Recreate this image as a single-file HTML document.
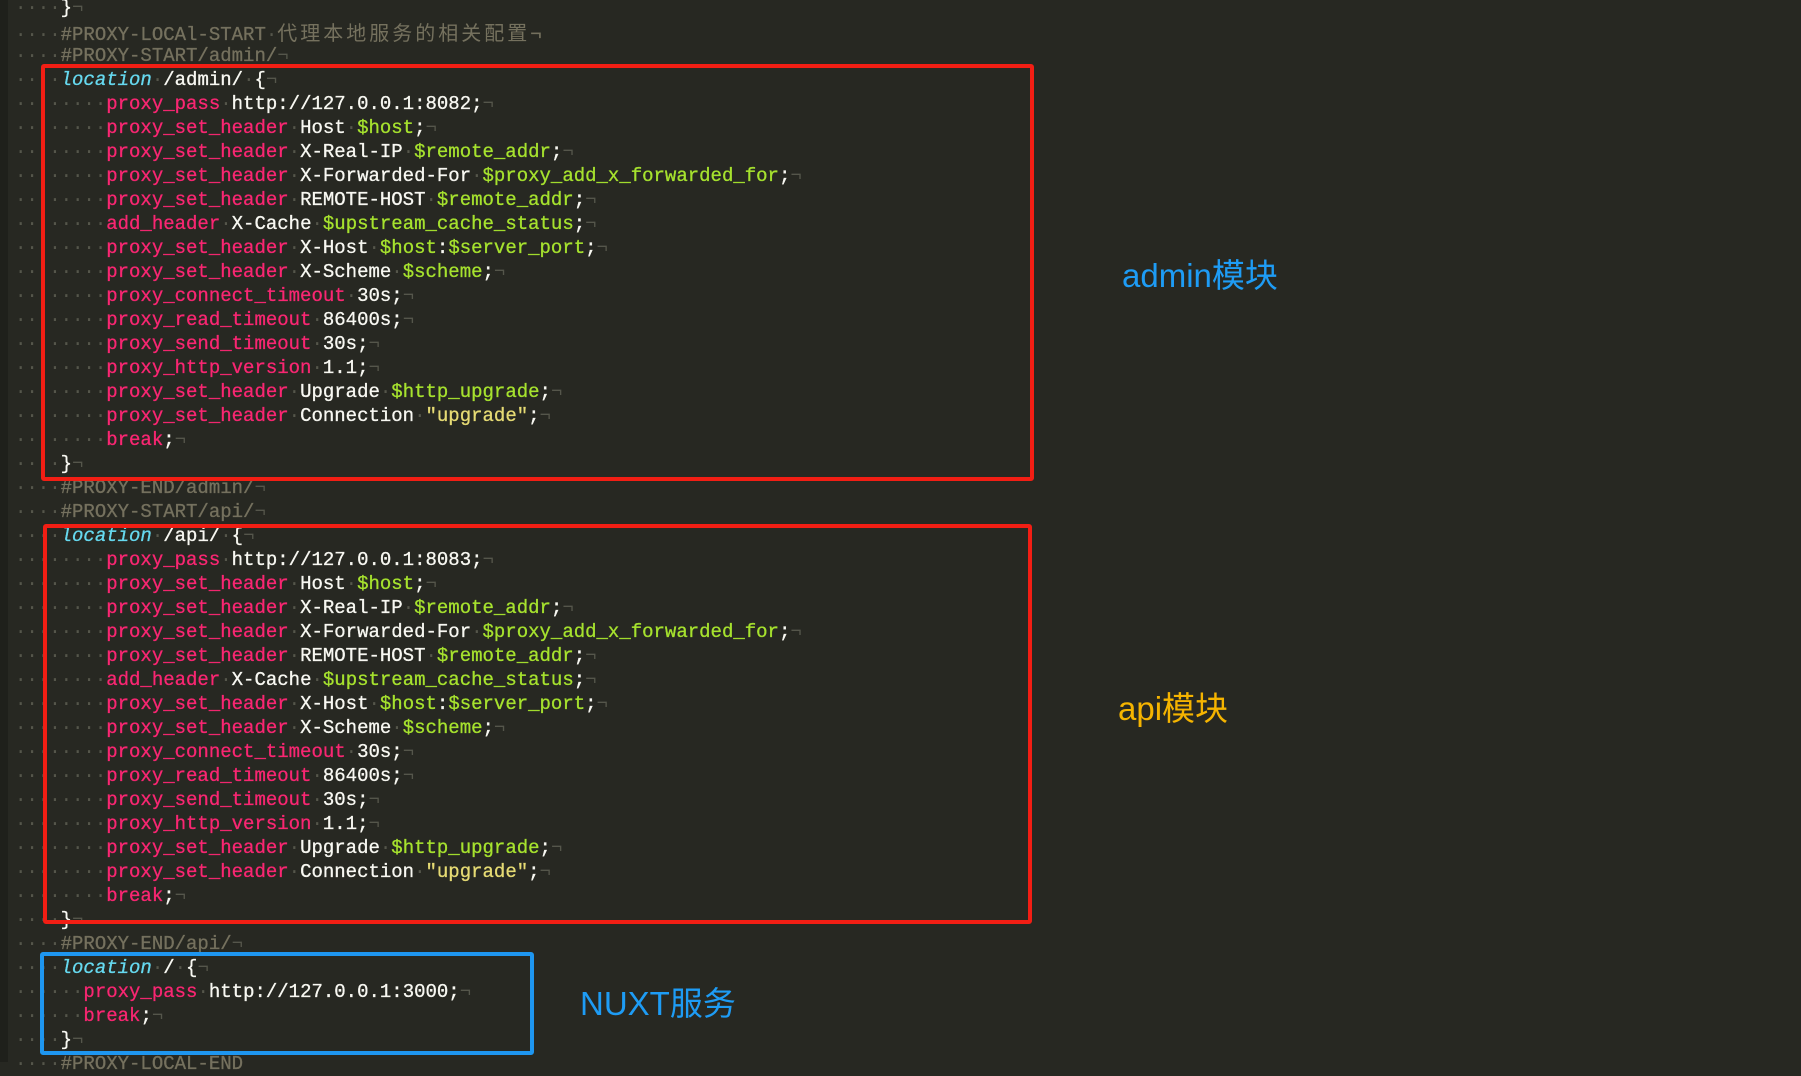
<!DOCTYPE html>
<html><head><meta charset="utf-8"><style>
body{margin:0;width:1801px;height:1062px;background:#272822;overflow:hidden;position:relative;font-family:"Liberation Mono",monospace;}
.gut{position:absolute;left:0;top:0;width:8px;height:1062px;background:#1f201b}
.L{position:absolute;left:15px;height:24px;line-height:24px;font-size:19px;white-space:pre;color:#f8f8f2;-webkit-text-stroke:0.3px currentColor}
.d{color:#55564b;-webkit-text-stroke:0}.c{color:#75715e}.k{color:#f92672}.g{color:#a6e22e}.l{color:#66d9ef;font-style:italic}.s{color:#e6db74}
.cj{font-family:"Noto Sans CJK SC",sans-serif;letter-spacing:3px;font-size:20px;-webkit-text-stroke:0}
.box{position:absolute;border:4px solid #f21e14;border-radius:3px;box-sizing:border-box}
.lab{position:absolute;font-family:"Liberation Sans","Noto Sans CJK SC",sans-serif;font-size:33px;line-height:40px}
</style></head><body>
<div class="gut"></div>
<div class="L" style="top:-4px"><span class="d">····</span>}<span class="d">¬</span></div>
<div class="L" style="top:20px"><span class="d">····</span><span class="c">#PROXY-LOCAl-START<span class="d">·</span><span class="cj">代理本地服务的相关配置</span>¬</span></div>
<div class="L" style="top:44px"><span class="d">····</span><span class="c">#PROXY-START/admin/</span><span class="d">¬</span></div>
<div class="L" style="top:68px"><span class="d">····</span><span class="l">location</span><span class="d">·</span>/admin/<span class="d">·</span>{<span class="d">¬</span></div>
<div class="L" style="top:92px"><span class="d">········</span><span class="k">proxy_pass</span><span class="d">·</span>http://127.0.0.1:8082;<span class="d">¬</span></div>
<div class="L" style="top:116px"><span class="d">········</span><span class="k">proxy_set_header</span><span class="d">·</span>Host<span class="d">·</span><span class="g">$host</span>;<span class="d">¬</span></div>
<div class="L" style="top:140px"><span class="d">········</span><span class="k">proxy_set_header</span><span class="d">·</span>X-Real-IP<span class="d">·</span><span class="g">$remote_addr</span>;<span class="d">¬</span></div>
<div class="L" style="top:164px"><span class="d">········</span><span class="k">proxy_set_header</span><span class="d">·</span>X-Forwarded-For<span class="d">·</span><span class="g">$proxy_add_x_forwarded_for</span>;<span class="d">¬</span></div>
<div class="L" style="top:188px"><span class="d">········</span><span class="k">proxy_set_header</span><span class="d">·</span>REMOTE-HOST<span class="d">·</span><span class="g">$remote_addr</span>;<span class="d">¬</span></div>
<div class="L" style="top:212px"><span class="d">········</span><span class="k">add_header</span><span class="d">·</span>X-Cache<span class="d">·</span><span class="g">$upstream_cache_status</span>;<span class="d">¬</span></div>
<div class="L" style="top:236px"><span class="d">········</span><span class="k">proxy_set_header</span><span class="d">·</span>X-Host<span class="d">·</span><span class="g">$host</span>:<span class="g">$server_port</span>;<span class="d">¬</span></div>
<div class="L" style="top:260px"><span class="d">········</span><span class="k">proxy_set_header</span><span class="d">·</span>X-Scheme<span class="d">·</span><span class="g">$scheme</span>;<span class="d">¬</span></div>
<div class="L" style="top:284px"><span class="d">········</span><span class="k">proxy_connect_timeout</span><span class="d">·</span>30s;<span class="d">¬</span></div>
<div class="L" style="top:308px"><span class="d">········</span><span class="k">proxy_read_timeout</span><span class="d">·</span>86400s;<span class="d">¬</span></div>
<div class="L" style="top:332px"><span class="d">········</span><span class="k">proxy_send_timeout</span><span class="d">·</span>30s;<span class="d">¬</span></div>
<div class="L" style="top:356px"><span class="d">········</span><span class="k">proxy_http_version</span><span class="d">·</span>1.1;<span class="d">¬</span></div>
<div class="L" style="top:380px"><span class="d">········</span><span class="k">proxy_set_header</span><span class="d">·</span>Upgrade<span class="d">·</span><span class="g">$http_upgrade</span>;<span class="d">¬</span></div>
<div class="L" style="top:404px"><span class="d">········</span><span class="k">proxy_set_header</span><span class="d">·</span>Connection<span class="d">·</span><span class="s">"upgrade"</span>;<span class="d">¬</span></div>
<div class="L" style="top:428px"><span class="d">········</span><span class="k">break</span>;<span class="d">¬</span></div>
<div class="L" style="top:452px"><span class="d">····</span>}<span class="d">¬</span></div>
<div class="L" style="top:476px"><span class="d">····</span><span class="c">#PROXY-END/admin/</span><span class="d">¬</span></div>
<div class="L" style="top:500px"><span class="d">····</span><span class="c">#PROXY-START/api/</span><span class="d">¬</span></div>
<div class="L" style="top:524px"><span class="d">····</span><span class="l">location</span><span class="d">·</span>/api/<span class="d">·</span>{<span class="d">¬</span></div>
<div class="L" style="top:548px"><span class="d">········</span><span class="k">proxy_pass</span><span class="d">·</span>http://127.0.0.1:8083;<span class="d">¬</span></div>
<div class="L" style="top:572px"><span class="d">········</span><span class="k">proxy_set_header</span><span class="d">·</span>Host<span class="d">·</span><span class="g">$host</span>;<span class="d">¬</span></div>
<div class="L" style="top:596px"><span class="d">········</span><span class="k">proxy_set_header</span><span class="d">·</span>X-Real-IP<span class="d">·</span><span class="g">$remote_addr</span>;<span class="d">¬</span></div>
<div class="L" style="top:620px"><span class="d">········</span><span class="k">proxy_set_header</span><span class="d">·</span>X-Forwarded-For<span class="d">·</span><span class="g">$proxy_add_x_forwarded_for</span>;<span class="d">¬</span></div>
<div class="L" style="top:644px"><span class="d">········</span><span class="k">proxy_set_header</span><span class="d">·</span>REMOTE-HOST<span class="d">·</span><span class="g">$remote_addr</span>;<span class="d">¬</span></div>
<div class="L" style="top:668px"><span class="d">········</span><span class="k">add_header</span><span class="d">·</span>X-Cache<span class="d">·</span><span class="g">$upstream_cache_status</span>;<span class="d">¬</span></div>
<div class="L" style="top:692px"><span class="d">········</span><span class="k">proxy_set_header</span><span class="d">·</span>X-Host<span class="d">·</span><span class="g">$host</span>:<span class="g">$server_port</span>;<span class="d">¬</span></div>
<div class="L" style="top:716px"><span class="d">········</span><span class="k">proxy_set_header</span><span class="d">·</span>X-Scheme<span class="d">·</span><span class="g">$scheme</span>;<span class="d">¬</span></div>
<div class="L" style="top:740px"><span class="d">········</span><span class="k">proxy_connect_timeout</span><span class="d">·</span>30s;<span class="d">¬</span></div>
<div class="L" style="top:764px"><span class="d">········</span><span class="k">proxy_read_timeout</span><span class="d">·</span>86400s;<span class="d">¬</span></div>
<div class="L" style="top:788px"><span class="d">········</span><span class="k">proxy_send_timeout</span><span class="d">·</span>30s;<span class="d">¬</span></div>
<div class="L" style="top:812px"><span class="d">········</span><span class="k">proxy_http_version</span><span class="d">·</span>1.1;<span class="d">¬</span></div>
<div class="L" style="top:836px"><span class="d">········</span><span class="k">proxy_set_header</span><span class="d">·</span>Upgrade<span class="d">·</span><span class="g">$http_upgrade</span>;<span class="d">¬</span></div>
<div class="L" style="top:860px"><span class="d">········</span><span class="k">proxy_set_header</span><span class="d">·</span>Connection<span class="d">·</span><span class="s">"upgrade"</span>;<span class="d">¬</span></div>
<div class="L" style="top:884px"><span class="d">········</span><span class="k">break</span>;<span class="d">¬</span></div>
<div class="L" style="top:908px"><span class="d">····</span>}<span class="d">¬</span></div>
<div class="L" style="top:932px"><span class="d">····</span><span class="c">#PROXY-END/api/</span><span class="d">¬</span></div>
<div class="L" style="top:956px"><span class="d">····</span><span class="l">location</span><span class="d">·</span>/<span class="d">·</span>{<span class="d">¬</span></div>
<div class="L" style="top:980px"><span class="d">······</span><span class="k">proxy_pass</span><span class="d">·</span>http://127.0.0.1:3000;<span class="d">¬</span></div>
<div class="L" style="top:1004px"><span class="d">······</span><span class="k">break</span>;<span class="d">¬</span></div>
<div class="L" style="top:1028px"><span class="d">····</span>}<span class="d">¬</span></div>
<div class="L" style="top:1052px"><span class="d">····</span><span class="c">#PROXY-LOCAL-END</span></div>

<div class="box" style="left:41px;top:64px;width:993px;height:417px"></div>
<div class="box" style="left:43px;top:524px;width:989px;height:400px"></div>
<div class="box" style="left:40px;top:952px;width:494px;height:103px;border-color:#1e96f0"></div>

<div class="lab" style="left:1122px;top:256px;color:#1e9cf5">admin模块</div>
<div class="lab" style="left:1118px;top:689px;color:#f5b400">api模块</div>
<div class="lab" style="left:580px;top:984px;color:#1e9cf5">NUXT服务</div>
</body></html>
